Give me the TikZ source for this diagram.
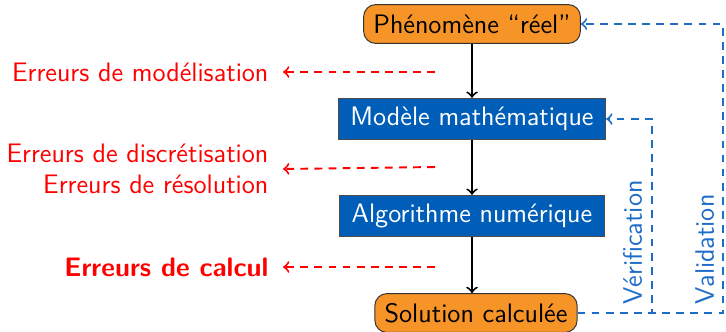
\documentclass[tikz,border=0pt]{standalone}
\usepackage{tikz}
\usetikzlibrary{arrows,calc,positioning}

\definecolor{orangebox}{RGB}{247,148,40}
\definecolor{bluebox}{RGB}{0,94,184}
\definecolor{bluedash}{RGB}{28,108,200}
\definecolor{rederr}{RGB}{255,0,0}

\tikzset{
  realbox/.style={draw=black!80, fill=orangebox, text=black, rounded corners=5pt,
    inner xsep=4pt, inner ysep=3pt, minimum height=16pt},
  numbox/.style={draw=black!70, fill=bluebox, text=white,
    inner xsep=5pt, inner ysep=3pt, minimum height=17pt},
  flow/.style={->, line width=0.8pt},
  errline/.style={->, rederr, line width=0.8pt, dash pattern=on 3.2pt off 2.6pt},
  checkline/.style={->, bluedash, line width=0.8pt, dash pattern=on 3.2pt off 2.6pt},
  errtext/.style={text=rederr, align=right, anchor=east},
  checktext/.style={text=bluedash, rotate=90, anchor=south west, inner sep=1pt}
}

\begin{document}
\begin{tikzpicture}[x=0.4115pt, y=-0.4115pt, font=\sffamily\fontsize{11}{13}\selectfont]
\useasboundingbox (0,0) rectangle (726,331);

% the chain of models
\node[realbox] (reel) at (472,24) {Phénomène “réel”};
\node[numbox] (modele) at (472,119) {Modèle mathématique};
\node[numbox] (algo) at (472,216) {Algorithme numérique};
\node[realbox] (sol) at (476,313) {Solution calculée};

\draw[flow] (reel) -- (modele);
\draw[flow] (modele) -- (algo);
\draw[flow] (algo) -- (sol.north -| algo);

% errors
\coordinate (e1) at (435,72);
\coordinate (e2) at (435,167);
\coordinate (e3) at (435,267);
\node[errtext] (modl) at (277,72) {Erreurs de modélisation};
\node[errtext] (disc) at (277,169) {Erreurs de discrétisation\\Erreurs de résolution};
\node[errtext] (calc) at (277,267) {\bfseries Erreurs de calcul};
\draw[errline] (e1) -- (modl.east -| 283,0);
\draw[errline] (e2) -- (disc.east -| 283,0);
\draw[errline] (e3) -- (calc.east -| 283,0);

% checks
\coordinate (verif) at (652,119);
\coordinate (valid) at (723,24);
\draw[checkline] (sol.east) -| (verif) -- (modele.east);
\draw[checkline] (sol.east) -| (valid) -- (reel.east);
\node[checktext] at (645,307) {Vérification};
\node[checktext] at (717,307) {Validation};
\end{tikzpicture}
\end{document}
